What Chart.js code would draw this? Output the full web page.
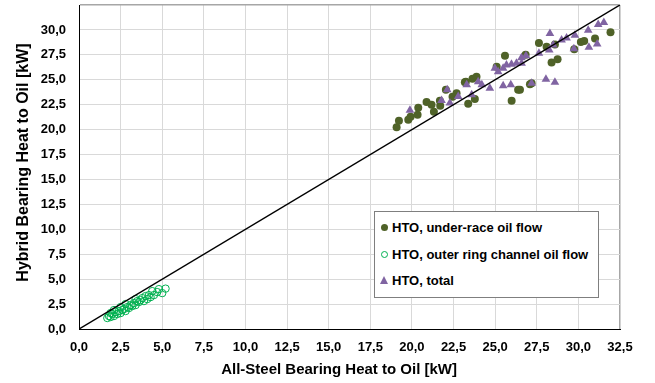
<!DOCTYPE html>
<html>
<head>
<meta charset="utf-8">
<script src="https://cdn.jsdelivr.net/npm/chart.js@4"></script>
<style>
    body { margin: 0; background: #fff; }
    #wrap { position: relative; width: 655px; height: 383px; }
    #legend {
        position: absolute; left: 374px; top: 211px; width: 223px; height: 85px;
        border: 1px solid #7f7f7f; background: #fff;
        font: bold 13px "Liberation Sans", Arial, sans-serif; color: #000;
    }
    .item { position: absolute; left: 17px; line-height: 16px; white-space: nowrap; }
    .mk { position: absolute; }
</style>
</head>
<body>
<div id="wrap">
    <canvas id="chart" width="655" height="383"></canvas>
    <div id="legend">
        <span class="mk" style="left:6px;top:12px;width:7px;height:7px;border-radius:50%;background:#4F6228"></span>
        <span class="item" style="top:8px">HTO, under-race oil flow</span>
        <span class="mk" style="left:6px;top:39px;width:5px;height:5px;border-radius:50%;border:1px solid #00B050"></span>
        <span class="item" style="top:35px">HTO, outer ring channel oil flow</span>
        <span class="mk" style="left:5px;top:64px;width:0;height:0;border-left:4.5px solid transparent;border-right:4.5px solid transparent;border-bottom:8px solid #8064A2"></span>
        <span class="item" style="top:61px">HTO, total</span>
    </div>
</div>
<script>
// axis range / ticks
const axisMin = 0;
const axisMax = 32.5;
const axisStep = 2.5;

// HTO, under-race oil flow
const underRaceX = [19.08, 19.22, 19.78, 19.92, 20.34, 20.38, 20.88, 21.18, 21.32, 21.7, 21.68, 22.04, 22.44, 22.68, 23.18, 23.24, 23.38, 23.64, 23.78, 23.88,
    25.09, 25.59, 25.99, 26.38, 26.49, 26.83, 27.09, 27.19, 27.63, 28.09, 28.39, 28.59, 28.75, 29.75, 30.15, 30.35, 31.0, 31.93];
const underRaceY = [20.24, 20.9, 21.0, 21.3, 21.5, 22.2, 22.76, 22.5, 21.8, 22.4, 22.9, 24.0, 23.3, 23.66, 24.76, 24.8, 22.6, 25.1, 23.07, 25.3,
    26.3, 27.4, 22.9, 24.0, 24.0, 27.5, 24.56, 24.66, 28.7, 28.3, 26.72, 28.55, 27.05, 28.05, 28.8, 28.9, 29.15, 29.76];

// HTO, outer ring channel oil flow
const outerRingX = [1.7, 1.8, 1.9, 1.9, 2.0, 2.1, 2.1, 2.2, 2.3, 2.4, 2.5, 2.5, 2.6, 2.7, 2.8, 2.8, 2.9, 3.0, 3.1, 3.2,
    3.3, 3.4, 3.4, 3.5, 3.6, 3.7, 3.8, 3.9, 4.0, 4.1, 4.2, 4.3, 4.4, 4.5, 4.7, 4.8, 5.0, 5.2];
const outerRingY = [1.1, 1.3, 1.2, 1.6, 1.5, 1.3, 1.9, 1.7, 1.5, 1.8, 1.6, 2.2, 1.9, 2.0, 1.8, 2.5, 2.2, 2.1, 2.4, 2.3,
    2.6, 2.4, 3.0, 2.8, 2.7, 2.9, 3.1, 2.8, 3.3, 3.0, 3.4, 3.2, 3.8, 3.4, 3.7, 4.0, 3.6, 4.05];

// HTO, total
const totalX = [19.88, 21.78, 22.12, 22.28, 22.78, 23.29, 23.59, 23.98, 24.2, 24.68, 24.98, 25.18, 25.48, 25.48, 25.68, 25.94, 25.98, 26.28, 26.58, 26.59,
    26.85, 27.19, 27.63, 28.05, 28.25, 28.29, 28.49, 28.59, 28.99, 29.29, 29.73, 29.79, 30.59, 30.63, 31.13, 31.19, 31.53];
const totalY = [21.93, 22.93, 24.0, 22.66, 23.33, 24.5, 23.5, 24.8, 24.5, 24.16, 26.15, 25.8, 26.15, 24.4, 26.49, 24.5, 26.56, 26.65, 27.2, 26.65,
    27.4, 24.66, 27.65, 25.05, 27.98, 29.65, 28.48, 24.76, 28.98, 29.2, 28.1, 29.47, 29.97, 28.25, 28.58, 30.54, 30.74];

// 1:1 reference line
const parityLine = [0, 32.5];

const toPoints = (xs, ys) => xs.map((x, i) => ({ x: x, y: ys[i] }));
const fmt = v => v.toFixed(1).replace(".", ",");
const tickFont = { family: "'Liberation Sans', Arial, sans-serif", size: 13, weight: "bold" };
const edgeGrid = c => (c.tick && c.tick.value === axisMax ? "#a6a6a6" : "#d9d9d9");
const edgeWidth = c => (c.tick && c.tick.value === axisMax ? 1.5 : 1);

const ctx = document.getElementById("chart").getContext("2d");

new Chart(ctx, {
    type: "scatter",
    data: {
        datasets: [
            {
                type: "line",
                data: parityLine.map(v => ({ x: v, y: v })),
                borderColor: "#000000",
                borderWidth: 1.5,
                pointRadius: 0,
                order: 0
            },
            {
                data: toPoints(totalX, totalY),
                pointStyle: "triangle",
                pointRadius: 5,
                backgroundColor: "#8064A2",
                borderColor: "#8064A2",
                borderWidth: 0,
                order: 1
            },
            {
                data: toPoints(underRaceX, underRaceY),
                pointStyle: "circle",
                pointRadius: 4,
                backgroundColor: "#4F6228",
                borderColor: "#4F6228",
                borderWidth: 0,
                order: 2
            },
            {
                data: toPoints(outerRingX, outerRingY),
                pointStyle: "circle",
                pointRadius: 3.7,
                backgroundColor: "rgba(0,0,0,0)",
                borderColor: "#00B050",
                borderWidth: 1,
                order: 3
            }
        ]
    },
    options: {
        responsive: false,
        animation: false,
        layout: { padding: { top: 3, right: 35, left: 0, bottom: 0 } },
        plugins: {
            legend: { display: false },
            tooltip: { enabled: false }
        },
        scales: {
            x: {
                type: "linear",
                min: axisMin,
                max: axisMax,
                afterFit: s => { s.height = 54; },
                ticks: { stepSize: axisStep, padding: 11, color: "#000", font: tickFont, callback: v => fmt(v), maxRotation: 0, autoSkip: false },
                grid: { drawTicks: false, color: edgeGrid, lineWidth: edgeWidth },
                border: { color: "#000", width: 1 },
                title: {
                    display: true,
                    text: "All-Steel Bearing Heat to Oil [kW]\u00a0\u00a0\u00a0\u00a0\u00a0",
                    color: "#000",
                    font: { family: "'Liberation Sans', Arial, sans-serif", size: 15, weight: "bold" },
                    padding: { top: 0, bottom: 4 }
                }
            },
            y: {
                type: "linear",
                min: axisMin,
                max: axisMax,
                afterFit: s => { s.width = 79; s.paddingTop = 0; s.paddingBottom = 0; },
                ticks: { stepSize: axisStep, padding: 13, color: "#000", font: tickFont, callback: v => (v === axisMax ? "" : fmt(v)), autoSkip: false },
                grid: { drawTicks: false, color: edgeGrid, lineWidth: edgeWidth },
                border: { color: "#000", width: 1 },
                title: {
                    display: true,
                    text: "\u00a0\u00a0Hybrid Bearing Heat to Oil [kW]",
                    color: "#000",
                    font: { family: "'Liberation Sans', Arial, sans-serif", size: 16, weight: "bold" },
                    padding: { top: 14, bottom: 0 }
                }
            }
        }
    }
});
</script>
</body>
</html>
